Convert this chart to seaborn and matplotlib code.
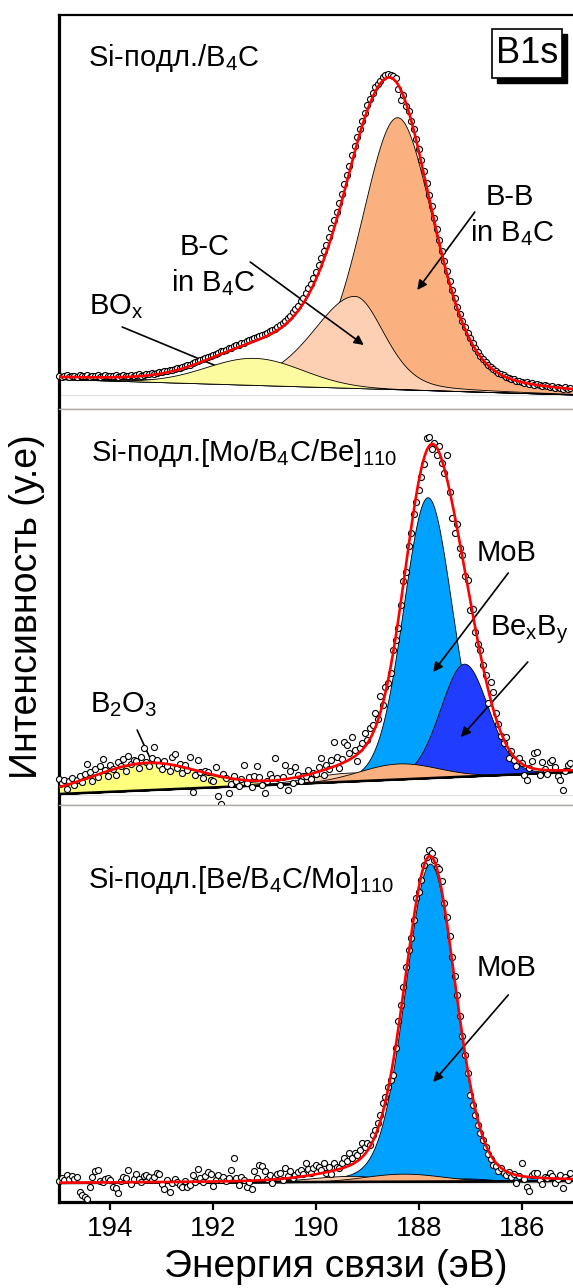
import numpy as np
import matplotlib
matplotlib.use("Agg")
import matplotlib.pyplot as plt
from matplotlib.patches import Rectangle
import seaborn as sns

sns.set_theme(style="white")
plt.rcParams['font.family'] = ['Liberation Sans', 'DejaVu Sans']
plt.rcParams['mathtext.default'] = 'regular'
plt.rcParams['text.color'] = 'black'
plt.rcParams['xtick.color'] = 'black'

# ---- measured B1s spectra: binding energy grid (eV), 0.05 eV step
energy = 195.0 - 0.05 * np.arange(200)

# Si substrate / B4C (a.u.)
p1_counts = [
    19, 18, 19, 20, 18, 19, 19, 18, 20, 19,
    19, 20, 18, 19, 19, 20, 18, 19, 20, 19,
    19, 19, 20, 18, 19, 20, 19, 19, 20, 19,
    20, 21, 19, 20, 21, 21, 22, 21, 22, 23,
    23, 24, 24, 25, 25, 26, 27, 27, 28, 29,
    30, 30, 32, 33, 34, 35, 36, 37, 38, 39,
    40, 41, 42, 44, 44, 45, 47, 47, 49, 50,
    50, 52, 52, 54, 55, 56, 57, 58, 59, 60,
    61, 62, 64, 65, 66, 68, 70, 72, 74, 77,
    79, 83, 86, 89, 94, 97, 102, 107, 111, 117,
    123, 130, 137, 144, 150, 158, 167, 175, 183, 192,
    201, 211, 220, 229, 240, 249, 258, 266, 274, 282,
    290, 296, 302, 308, 311, 314, 318, 320, 321, 320,
    319, 317, 306, 295, 300, 289, 284, 274, 266, 256,
    246, 235, 224, 212, 200, 189, 177, 166, 155, 144,
    134, 124, 114, 105, 97, 88, 81, 74, 68, 62,
    57, 52, 47, 43, 39, 36, 33, 30, 28, 26,
    24, 22, 21, 20, 18, 17, 16, 16, 14, 14,
    13, 12, 13, 11, 12, 10, 11, 10, 9, 10,
    9, 8, 9, 7, 8, 7, 6, 8, 6, 7,
]

# Si substrate / [Mo/B4C/Be]110 (a.u.)
p2_counts = [
    16, 12, 15, 6, 14, 17, 10, 15, 19, 13,
    21, 31, 23, 14, 26, 18, 29, 36, 25, 19,
    30, 26, 20, 33, 29, 36, 24, 39, 31, 35,
    34, 27, 38, 47, 33, 29, 37, 48, 35, 30,
    26, 34, 29, 24, 38, 41, 27, 31, 22, 30,
    25, 38, 3, 20, 35, 23, 17, 24, 23, 15,
    14, 28, -1, -9, 21, 17, 2, 11, 19, 14,
    9, 16, 30, 12, 18, 8, 19, 29, 18, 10,
    2, 14, 21, 17, 37, 17, 10, 18, 30, 5,
    24, 12, 28, 20, 14, 19, 19, 25, 16, 22,
    21, 28, 37, 20, 30, 26, 35, 53, 38, 27,
    36, 53, 50, 42, 58, 45, 34, 47, 52, 62,
    55, 67, 70, 82, 76, 99, 90, 108, 112, 122,
    145, 155, 167, 190, 214, 223, 249, 262, 281, 293,
    305, 318, 331, 357, 358, 346, 352, 340, 349, 332,
    322, 340, 303, 277, 262, 271, 247, 240, 219, 215,
    185, 186, 163, 151, 145, 130, 120, 92, 113, 103,
    82, 71, 59, 52, 58, 37, 44, 35, 29, 37,
    32, 20, 15, 27, 34, 42, 43, 20, 33, 26,
    21, 33, 35, 28, 19, 15, 5, 24, 30, 32,
]

# Si substrate / [Be/B4C/Mo]110 (a.u.)
p3_counts = [
    2, 5, 3, 8, 4, 7, 4, 6, -9, -12,
    -14, -16, -4, 6, 12, 13, 2, 1, 4, 5,
    3, -4, -5, -10, 2, 6, 5, 13, -1, 4,
    9, 4, 1, 7, 8, 6, 3, 6, 10, 9,
    -1, -6, 3, -9, 0, 4, 1, -2, -4, 2,
    -4, -2, 8, 1, 14, 5, 1, 7, 11, 9,
    -3, 3, 8, 3, 6, 2, 5, 13, 25, 5,
    -2, 6, 3, -4, 1, -6, 12, 5, 18, 17,
    12, 4, 8, 0, 6, 9, 10, 3, 15, 7,
    12, 5, 8, 11, 13, 9, 20, 14, 10, 15,
    18, 16, 13, 20, 10, 16, 9, 20, 16, 15,
    20, 25, 22, 30, 25, 30, 28, 33, 40, 36,
    40, 38, 48, 53, 60, 68, 80, 86, 96, 103,
    108, 135, 162, 178, 196, 216, 233, 245, 263, 285,
    291, 303, 318, 326, 333, 330, 323, 316, 314, 302,
    280, 266, 247, 226, 207, 188, 167, 147, 128, 110,
    88, 78, 68, 58, 50, 43, 36, 29, 24, 18,
    17, 12, 15, 10, 8, 11, 6, 9, 0, 7,
    20, 4, -4, -8, 8, 10, 10, 3, -1, 6,
    5, 10, 7, 0, 4, 8, -5, 6, 3, 10,
]

# ---- fitted components: centre (eV), height, FWHM on the high- and
# low-energy sides, Lorentzian fraction; linear background at 195 / 185 eV
p1_names   = ["B-B", "B-C", "BOx"]
p1_center  = [188.42, 189.25, 191.20]
p1_height  = [272.0, 92.0, 27.0]
p1_fwhm_hi = [1.70, 1.95, 2.20]
p1_fwhm_lo = [1.70, 1.35, 2.20]
p1_lorentz = [0.30, 0.30, 0.00]
p1_bg      = [16.0, 0.5]

p2_names   = ["MoB", "BexBy", "B-B", "B-C", "B2O3"]
p2_center  = [187.83, 187.12, 188.40, 189.35, 193.30]
p2_height  = [281.0, 113.0, 16.0, 9.0, 27.0]
p2_fwhm_hi = [1.12, 1.10, 1.80, 1.90, 2.40]
p2_fwhm_lo = [1.12, 1.10, 1.80, 1.30, 2.40]
p2_lorentz = [0.10, 0.10, 0.00, 0.00, 0.00]
p2_bg      = [1.0, 23.0]

p3_names   = ["MoB", "BexBy", "B-B", "B-C"]
p3_center  = [187.78, 187.10, 188.30, 189.30]
p3_height  = [318.0, 3.0, 8.0, 6.0]
p3_fwhm_hi = [1.15, 1.10, 1.80, 1.90]
p3_fwhm_lo = [1.15, 1.10, 1.80, 1.30]
p3_lorentz = [0.15, 0.00, 0.00, 0.00]
p3_bg      = [0.0, 2.0]

x_ticks = [194, 192, 190, 188, 186]

colors = {"B-B": "#FBB17F", "B-C": "#FED0B3", "BOx": "#FDFB9F",
          "MoB": "#00A1FF", "BexBy": "#1F3CFF", "B2O3": "#FFFF7E"}


def pseudo_voigt(e, c, h, f_hi, f_lo, m):
    f = np.where(e >= c, f_hi, f_lo)
    d = (e - c) / f
    return h * ((1 - m) * np.exp(-4 * np.log(2) * d ** 2) + m / (1 + 4 * d ** 2))


def background(e, ends):
    return ends[0] + (ends[1] - ends[0]) * (195.0 - e) / 10.0


fig = plt.figure(figsize=(5.73, 12.88), dpi=100)
left, right = 59 / 573, 1.0
tops = [15, 409, 805]
bots = [409, 805, 1202]
ylims = [(-14, 380), (-10, 386), (-19, 378)]
axes = []
for t, b, yl in zip(tops, bots, ylims):
    ax = fig.add_axes([left, 1 - b / 1288, right - left, (b - t) / 1288])
    ax.set_xlim(195, 185)
    ax.set_ylim(*yl)
    ax.set_yticks([])
    axes.append(ax)

e_fine = np.linspace(185.0, 195.0, 1001)
panels = [
    (p1_names, p1_center, p1_height, p1_fwhm_hi, p1_fwhm_lo, p1_lorentz, p1_bg,
     ["B-B", "B-C", "BOx"], p1_counts),
    (p2_names, p2_center, p2_height, p2_fwhm_hi, p2_fwhm_lo, p2_lorentz, p2_bg,
     ["MoB", "BexBy", "B-C", "B-B", "B2O3"], p2_counts),
    (p3_names, p3_center, p3_height, p3_fwhm_hi, p3_fwhm_lo, p3_lorentz, p3_bg,
     ["MoB", "BexBy", "B-C", "B-B"], p3_counts),
]

for i, (ax, (names, cen, hei, fhi, flo, lor, bgp, order, counts)) in enumerate(zip(axes, panels)):
    bg = background(e_fine, bgp)
    comps = {n: pseudo_voigt(e_fine, c, h, a, b, m)
             for n, c, h, a, b, m in zip(names, cen, hei, fhi, flo, lor)}
    total = bg + sum(comps.values())
    ax.axhline(0, color="#e2e2e2", lw=0.9, zorder=0)
    for z, n in enumerate(order):
        ax.fill_between(e_fine, bg, bg + comps[n], facecolor=colors[n],
                        edgecolor="black", lw=0.6, zorder=2 + z)
    if i > 0:
        ax.plot(e_fine, bg, color="black", lw=1.8, zorder=8)
    sns.scatterplot(x=energy, y=counts, ax=ax, marker="o", s=19,
                    color="white", edgecolor="black", linewidth=0.8,
                    zorder=9, clip_on=False, legend=False)
    sns.lineplot(x=e_fine, y=total, ax=ax, color="#FF0000", lw=1.9,
                 sort=False, zorder=10)

for i, ax in enumerate(axes):
    ax.spines["right"].set_visible(False)
    ax.spines["left"].set_visible(True)
    ax.spines["top"].set_visible(True)
    ax.spines["bottom"].set_visible(True)
    ax.spines["left"].set_color("black")
    ax.spines["left"].set_linewidth(2.3)
    ax.spines["top"].set_color("black" if i == 0 else "#b0aba6")
    ax.spines["top"].set_linewidth(1.6 if i == 0 else 1.0)
    ax.spines["bottom"].set_color("black" if i == 2 else "#b0aba6")
    ax.spines["bottom"].set_linewidth(2.3 if i == 2 else 1.0)
    ax.set_xlabel("")
    ax.set_ylabel("")
    if i < 2:
        ax.set_xticks([])
    else:
        ax.set_xticks(x_ticks)
        ax.set_xticklabels([str(v) for v in x_ticks])
        ax.tick_params(axis="x", direction="out", length=6, width=1.6,
                       labelsize=20, pad=4, bottom=True, colors="black")

fs = 21
arrow = dict(arrowstyle="-|>", color="black", lw=1.2, mutation_scale=14,
             shrinkA=0, shrinkB=0)

ax1, ax2, ax3 = axes
ax1.text(194.44, 337, "Si-подл./B$_4$C", fontsize=fs, ha="left", va="center")
ax1.text(186.23, 198, "B-B", fontsize=fs, ha="center", va="center")
ax1.text(186.19, 162, "in B$_4$C", fontsize=fs, ha="center", va="center")
ax1.annotate("", xy=(188.03, 105), xytext=(186.91, 183), arrowprops=arrow)
ax1.text(192.16, 148, "B-C", fontsize=fs, ha="center", va="center")
ax1.text(192.0, 112, "in B$_4$C", fontsize=fs, ha="center", va="center")
ax1.annotate("", xy=(189.07, 50), xytext=(191.28, 133), arrowprops=arrow)
ax1.text(193.89, 88, "BO$_x$", fontsize=fs, ha="center", va="center")
ax1.annotate("", xy=(191.28, 15), xytext=(193.77, 68), arrowprops=arrow)

# boxed core-level label with a drop shadow (axes-fraction coordinates)
bx, by, bw, bh = 0.842, 0.840, 0.136, 0.1245
ax1.add_patch(Rectangle((bx + 5 / 514, by - 5 / 394), bw, bh,
                        transform=ax1.transAxes, facecolor="black",
                        edgecolor="black", zorder=19, clip_on=False))
ax1.add_patch(Rectangle((bx, by), bw, bh, transform=ax1.transAxes,
                        facecolor="white", edgecolor="black", lw=1.2,
                        zorder=20, clip_on=False))
ax1.text(bx + bw / 2, by + bh / 2, "B1s", fontsize=26, ha="center",
         va="center", transform=ax1.transAxes, zorder=21)

ax2.text(194.38, 342, "Si-подл.[Mo/B$_4$C/Be]$_{110}$", fontsize=fs,
         ha="left", va="center")
ax2.text(186.30, 242, "MoB", fontsize=fs, ha="center", va="center")
ax2.annotate("", xy=(187.72, 123), xytext=(186.26, 222), arrowprops=arrow)
ax2.text(185.84, 165, "Be$_x$B$_y$", fontsize=fs, ha="center", va="center")
ax2.annotate("", xy=(187.18, 58), xytext=(185.88, 133), arrowprops=arrow)
ax2.text(193.74, 90, "B$_2$O$_3$", fontsize=fs, ha="center", va="center")
ax2.annotate("", xy=(193.05, 17), xytext=(193.48, 65), arrowprops=arrow)

ax3.text(194.44, 303, "Si-подл.[Be/B$_4$C/Mo]$_{110}$", fontsize=fs,
         ha="left", va="center")
ax3.text(186.30, 215, "MoB", fontsize=fs, ha="center", va="center")
ax3.annotate("", xy=(187.72, 101), xytext=(186.26, 188), arrowprops=arrow)

fig.text(27 / 573, 1 - 607 / 1288, "Интенсивность (у.е)", fontsize=27,
         rotation=90, ha="center", va="center")
fig.text(336 / 573, 1 - 1267 / 1288, "Энергия связи (эВ)", fontsize=28,
         ha="center", va="center")

fig.savefig("out.png", dpi=100)
